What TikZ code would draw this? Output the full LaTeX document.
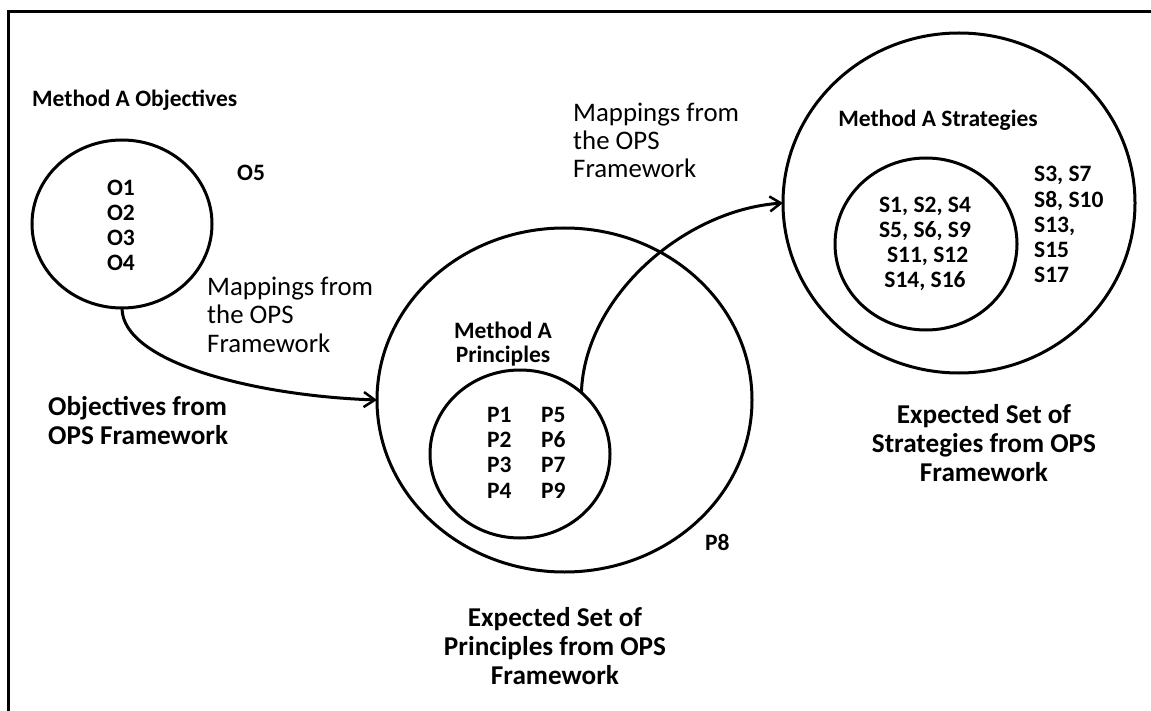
\documentclass[tikz,border=0pt]{standalone}
\usepackage{fontspec}
\setmainfont{Carlito}
\usetikzlibrary{shapes.geometric,arrows.meta}

\tikzset{
  ring/.style={draw, ellipse, line width=3pt, inner sep=0pt, outer sep=0pt},
  conn/.style={line width=3pt, -{Straight Barb[length=11pt,width=15pt,line width=2.5pt]}},
  small/.style={font=\bfseries\fontsize{23.5}{25.3}\selectfont, inner sep=0pt},
  big/.style={font=\bfseries\fontsize{27.2}{28.7}\selectfont, inner sep=0pt, align=center},
  plain/.style={font=\fontsize{26.8}{28.3}\selectfont, inner sep=0pt, align=left},
}

\begin{document}
\begin{tikzpicture}[x=1pt, y=-1pt]
  \useasboundingbox (0,0) rectangle (1151,711);

  % outer frame (only the left and top edges fall inside the page)
  \draw[line width=3pt] (8,730) -- (8,12) -- (1170,12);

  % objectives
  \node[ring, minimum width=180pt, minimum height=168pt] (obj) at (122,224) {};
  \node[small, anchor=base west] (objtitle) at (32,107) {Method A Objectives};
  \node[small, anchor=base, align=center] (olist) at (121,271) {O1\\O2\\O3\\O4};
  \node[small, anchor=base west] (ofive) at (237,181) {O5};
  \node[big, anchor=base west, align=left] (objcap) at (48,444) {Objectives from\\OPS Framework};

  % principles
  \node[ring, minimum width=375pt, minimum height=344pt] (pbig) at (564.5,400) {};
  \node[ring, minimum width=180pt, minimum height=168pt] (pin) at (520,454) {};
  \node[small, anchor=base, align=center, font=\bfseries\fontsize{23.5}{24}\selectfont] (ptitle) at (503,362) {Method A\\Principles};
  \node[small, anchor=base west, align=left] (pcolA) at (487,498) {P1\\P2\\P3\\P4};
  \node[small, anchor=base west, align=left] (pcolB) at (541,498) {P5\\P6\\P7\\P9};
  \node[small, anchor=base west] (peight) at (705,550) {P8};
  \node[big, anchor=base] (pcap) at (555,684) {Expected Set of\\Principles from OPS\\Framework};

  % strategies
  \node[ring, minimum width=352pt, minimum height=340pt] (sbig) at (959,203) {};
  \node[ring, minimum width=182pt, minimum height=172pt] (sin) at (926,244) {};
  \node[small, anchor=base] (stitle) at (938,127) {Method A Strategies};
  \node[small, anchor=base, align=center] (sinner) at (925,288) {S1, S2, S4\\S5, S6, S9\\\ S11, S12\\S14, S16};
  \node[small, anchor=base west, align=left] (souter) at (1034,283) {S3, S7\\S8, S10\\S13,\\S15\\S17};
  \node[big, anchor=base] (scap) at (984,481) {Expected Set of\\Strategies from OPS\\Framework};

  % mapping labels
  \node[plain, anchor=base west] (mapA) at (207,352) {Mappings from\\the OPS\\Framework};
  \node[plain, anchor=base west] (mapB) at (573,178) {Mappings from\\the OPS\\Framework};

  % mapping connectors
  \draw[conn] (obj.south) .. controls +(0,55) and +(-120,-4) .. (pbig.west);
  \draw[conn] (pin.45) .. controls +(3,-95) and +(-100,7) .. (sbig.west);
\end{tikzpicture}
\end{document}
